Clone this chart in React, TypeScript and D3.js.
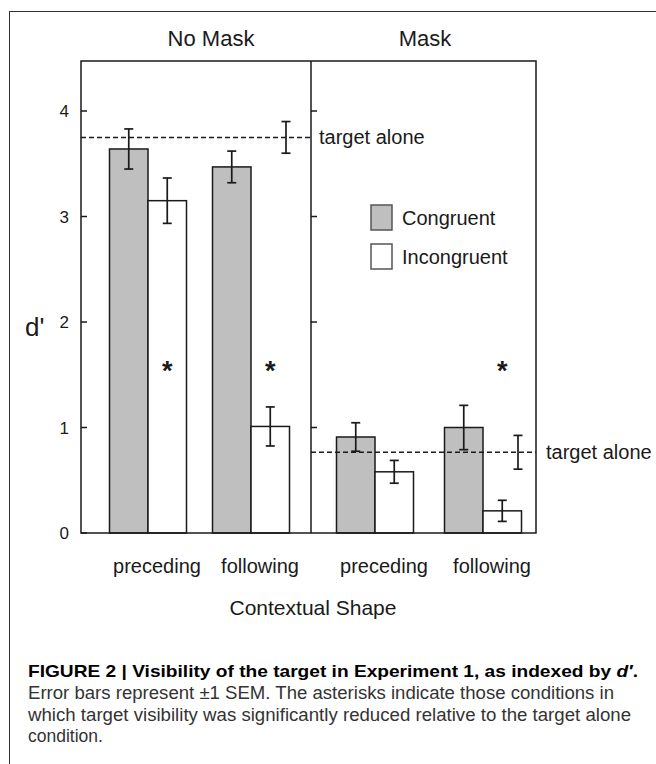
import React from "react";
import * as d3 from "d3";

// ---- Data ----
const panels = ["No Mask", "Mask"];
const contexts = ["preceding", "following"];
const conditions = ["Congruent", "Incongruent"];
// order: [No Mask preceding, No Mask following, Mask preceding, Mask following]
const congruentMeans = [3.64, 3.47, 0.91, 1.0];
const congruentSEM = [0.19, 0.15, 0.135, 0.21];
const incongruentMeans = [3.15, 1.01, 0.58, 0.21];
const incongruentSEM = [0.215, 0.185, 0.108, 0.1];
const incongruentSignificant = [true, true, false, true];
const targetAloneMeans = [3.75, 0.765];
const targetAloneSEM = [0.15, 0.16];
const yTicks = [0, 1, 2, 3, 4];
const captionTitle = "FIGURE 2 | Visibility of the target in Experiment 1, as indexed by ";
const captionLines = [
  "Error bars represent \u00B11 SEM. The asterisks indicate those conditions in",
  "which target visibility was significantly reduced relative to the target alone",
  "condition.",
];

const FONT = "'Liberation Sans', Arial, Helvetica, sans-serif";
const INK = "#1a1a1a";

export default function App() {
  const W = 656;
  const H = 764;
  const plotLeft = 81;
  const plotRight = 536;
  const divider = 311;
  const plotTop = 61;
  const plotBottom = 533;

  const y = d3.scaleLinear().domain([0, 4.474]).range([plotBottom, plotTop]);

  const panelX = d3.scaleOrdinal<string, [number, number]>()
    .domain(panels)
    .range([[148, 251], [375, 483]]);
  const ctxScale = (panel: string) =>
    d3.scalePoint<string>().domain(contexts).range(panelX(panel));
  const condX = d3.scaleBand<string>().domain(conditions).range([-38.5, 38.5]).paddingInner(0);
  const titleX = d3.scaleOrdinal<string, number>().domain(panels).range([211, 425]);
  const panelEdges = d3.scaleOrdinal<string, [number, number]>()
    .domain(panels)
    .range([[plotLeft, divider], [divider, plotRight]]);

  const bars: any[] = [];
  panels.forEach((p, pi) => {
    contexts.forEach((c, ci) => {
      const idx = pi * 2 + ci;
      const cx = ctxScale(p)(c)!;
      bars.push({ key: `${p}-${c}-C`, x: cx + condX("Congruent")!, w: condX.bandwidth(), v: congruentMeans[idx], e: congruentSEM[idx], fill: "#bfbfbf", sig: false });
      bars.push({ key: `${p}-${c}-I`, x: cx + condX("Incongruent")!, w: condX.bandwidth(), v: incongruentMeans[idx], e: incongruentSEM[idx], fill: "#ffffff", sig: incongruentSignificant[idx] });
    });
  });

  const cap = 4.5;
  const errBar = (key: string, x: number, v: number, e: number) => (
    <g key={key} stroke={INK} strokeWidth={1.7}>
      <line x1={x} x2={x} y1={y(v + e)} y2={y(v - e)} />
      <line x1={x - cap} x2={x + cap} y1={y(v + e)} y2={y(v + e)} />
      <line x1={x - cap} x2={x + cap} y1={y(v - e)} y2={y(v - e)} />
    </g>
  );

  return (
    <svg width={W} height={H} style={{ position: "absolute", left: 0, top: 0, background: "#fff" }} fontFamily={FONT}>
      <rect x={9.5} y={11.5} width={700} height={800} fill="none" stroke="#333" strokeWidth={1} />

      {/* Panel titles */}
      {panels.map((p) => (
        <text key={p} x={titleX(p)} y={46} textAnchor="middle" fontSize={22} fill={INK}>{p}</text>
      ))}

      {/* Bars */}
      {bars.map((b) => (
        <rect key={b.key} x={b.x} y={y(b.v)} width={b.w} height={y(0) - y(b.v)} fill={b.fill} stroke={INK} strokeWidth={1.5} />
      ))}
      {bars.map((b) => errBar("e-" + b.key, b.x + b.w / 2, b.v, b.e))}

      {/* Asterisks */}
      {bars.filter((b) => b.sig).map((b) => (
        <text key={"s-" + b.key} x={b.x + b.w / 2} y={y(1.6) + 16} textAnchor="middle" fontSize={27} fontWeight="bold" fill={INK}>*</text>
      ))}

      {/* Target alone lines */}
      {panels.map((p, pi) => {
        const [x0, x1] = panelEdges(p);
        const ex = ctxScale(p)("following")! + 35;
        return (
          <g key={"t-" + p}>
            <line x1={x0} x2={x1} y1={y(targetAloneMeans[pi])} y2={y(targetAloneMeans[pi])} stroke={INK} strokeWidth={1.5} strokeDasharray="5,3" />
            {errBar("te-" + p, ex, targetAloneMeans[pi], targetAloneSEM[pi])}
            <text x={x1 + (pi === 0 ? 8 : 10)} y={y(targetAloneMeans[pi])} dy="0.35em" fontSize={20} fill={INK}>target alone</text>
          </g>
        );
      })}

      {/* Frame */}
      <g stroke={INK} strokeWidth={1.5} fill="none">
        <rect x={plotLeft} y={plotTop} width={plotRight - plotLeft} height={plotBottom - plotTop} />
        <line x1={divider} x2={divider} y1={plotTop} y2={plotBottom} />
        {yTicks.map((t) => (
          <line key={"tl" + t} x1={plotLeft} x2={plotLeft + 6} y1={y(t)} y2={y(t)} />
        ))}
        {yTicks.filter((t) => t > 0).map((t) => (
          <line key={"td" + t} x1={divider} x2={divider + 6} y1={y(t)} y2={y(t)} />
        ))}
      </g>
      {yTicks.map((t) => (
        <text key={"yl" + t} x={69} y={y(t)} dy="0.38em" textAnchor="end" fontSize={17} fill={INK}>{t}</text>
      ))}
      <text x={25} y={336} fontSize={26} fill={INK}>d'</text>

      {/* Legend */}
      {conditions.map((c, i) => (
        <g key={"lg" + c}>
          <rect x={371} y={205 + i * 39} width={21} height={25} fill={i === 0 ? "#bfbfbf" : "#fff"} stroke="#555" strokeWidth={1.5} />
          <text x={402} y={217.5 + i * 39} dy="0.36em" fontSize={20} fill={INK}>{c}</text>
        </g>
      ))}

      {/* X labels */}
      {panels.map((p) =>
        contexts.map((c) => (
          <text key={p + c} x={ctxScale(p)(c)! + 9} y={573} textAnchor="middle" fontSize={20} fill={INK}>{c}</text>
        ))
      )}
      <text x={313} y={615} textAnchor="middle" fontSize={21} fill={INK}>Contextual Shape</text>

      {/* Caption */}
      <text x={28} y={677} fontSize={17} fontWeight="bold" fill="#000" textLength={610} lengthAdjust="spacingAndGlyphs">
        {captionTitle}<tspan fontStyle="italic">d{"\u2032"}</tspan>.
      </text>
      {captionLines.map((l, i) => (
        <text key={"c" + i} x={28} y={699 + i * 21.5} fontSize={17.5} fill="#333" textLength={i === 0 ? 586 : i === 1 ? 603 : undefined} lengthAdjust="spacingAndGlyphs">{l}</text>
      ))}
    </svg>
  );
}
